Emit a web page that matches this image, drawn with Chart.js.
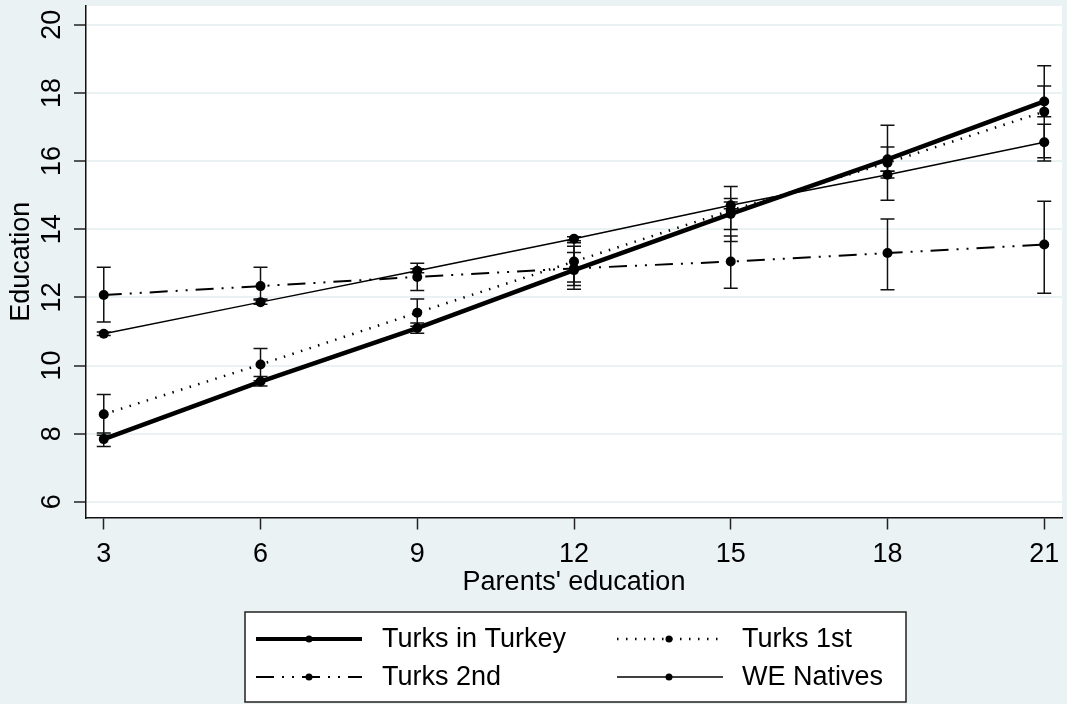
<!DOCTYPE html>
<html>
<head>
<meta charset="utf-8">
<script src="https://cdn.jsdelivr.net/npm/chart.js@4.4.1/dist/chart.umd.min.js"></script>
<style>
html,body{margin:0;padding:0;background:#EAF2F3;overflow:hidden;}
#wrap{width:1067px;height:704px;position:relative;}
canvas{display:block;}
</style>
</head>
<body>
<div id="wrap"><canvas id="c" width="1067" height="704"></canvas></div>
<script>
// ---- data ----
const parentsEdu = [3, 6, 9, 12, 15, 18, 21];
const xTickValues = [3, 6, 9, 12, 15, 18, 21];
const yTickValues = [6, 8, 10, 12, 14, 16, 18, 20];
const seriesNames = ['Turks in Turkey', 'Turks 1st', 'Turks 2nd', 'WE Natives'];

const turksInTurkey     = [7.84, 9.53, 11.10, 12.80, 14.45, 16.05, 17.75];
const turksInTurkeyLow  = [7.62, 9.40, 10.95, 12.35, 13.99, 15.70, 17.30];
const turksInTurkeyHigh = [8.02, 9.68, 11.25, 13.32, 14.90, 16.41, 18.20];

const turks1st     = [8.57, 10.03, 11.55, 13.05, 14.55, 15.95, 17.45];
const turks1stLow  = [7.95, 9.55, 11.15, 12.45, 13.64, 14.85, 16.10];
const turks1stHigh = [9.15, 10.50, 11.95, 13.60, 15.25, 17.05, 18.80];

const turks2nd     = [12.07, 12.33, 12.60, 12.85, 13.05, 13.30, 13.55];
const turks2ndLow  = [11.28, 11.95, 12.20, 12.24, 12.27, 12.22, 12.12];
const turks2ndHigh = [12.88, 12.88, 13.00, 13.50, 13.80, 14.30, 14.82];

const weNatives     = [10.93, 11.86, 12.78, 13.72, 14.70, 15.60, 16.55];
const weNativesLow  = [10.88, 11.80, 12.72, 13.66, 14.60, 15.50, 16.00];
const weNativesHigh = [10.98, 11.92, 12.84, 13.78, 14.80, 15.70, 17.08];

const xTitle = "Parents' education";
const yTitle = 'Education';

// ---- build ----
const pts = arr => arr.map((v, i) => ({x: parentsEdu[i], y: v}));
const FONT = "'Liberation Sans', Arial, sans-serif";
const BG = '#EAF2F3';

const datasets = [
  {label: seriesNames[0], data: pts(turksInTurkey), low: turksInTurkeyLow, high: turksInTurkeyHigh,
   borderWidth: 4.5, borderDash: [], legendWidth: 4},
  {label: seriesNames[1], data: pts(turks1st), low: turks1stLow, high: turks1stHigh,
   borderWidth: 2.5, borderDash: [1.5, 7.5], legendWidth: 2.5},
  {label: seriesNames[2], data: pts(turks2nd), low: turks2ndLow, high: turks2ndHigh,
   borderWidth: 2, borderDash: [18, 8, 2, 8, 2, 8], legendWidth: 2},
  {label: seriesNames[3], data: pts(weNatives), low: weNativesLow, high: weNativesHigh,
   borderWidth: 1.5, borderDash: [], legendWidth: 1.5}
].map(d => Object.assign({
  borderColor: '#000', backgroundColor: '#000', pointBackgroundColor: '#000',
  pointBorderWidth: 0, pointRadius: 5, pointHoverRadius: 5, tension: 0, fill: false,
  borderCapStyle: 'butt'
}, d));

const bgPlugin = {
  id: 'bgPlugin',
  beforeDraw(chart) {
    const {ctx, chartArea: a, width, height} = chart;
    ctx.save();
    ctx.fillStyle = BG;
    ctx.fillRect(0, 0, width, height);
    ctx.fillStyle = '#fff';
    ctx.fillRect(a.left, a.top, a.right - a.left, a.bottom - a.top);
    ctx.restore();
  }
};

const errorBarPlugin = {
  id: 'errorBars',
  beforeDatasetsDraw(chart) {
    const {ctx, scales: {x, y}, chartArea: a} = chart;
    ctx.save();
    ctx.beginPath();
    ctx.rect(a.left, a.top, a.right - a.left, a.bottom - a.top);
    ctx.clip();
    ctx.strokeStyle = '#111';
    ctx.lineWidth = 1.5;
    chart.data.datasets.forEach(ds => {
      ds.low.forEach((lo, i) => {
        const px = x.getPixelForValue(parentsEdu[i]);
        const p1 = y.getPixelForValue(lo);
        const p2 = y.getPixelForValue(ds.high[i]);
        ctx.beginPath();
        ctx.moveTo(px, p1); ctx.lineTo(px, p2);
        ctx.moveTo(px - 7, p1); ctx.lineTo(px + 7, p1);
        ctx.moveTo(px - 7, p2); ctx.lineTo(px + 7, p2);
        ctx.stroke();
      });
    });
    ctx.restore();
  }
};

const legendPlugin = {
  id: 'stataLegend',
  afterDraw(chart) {
    const {ctx} = chart;
    const box = {l: 245, t: 612, r: 906, b: 702};
    const slots = [
      {x1: 256, x2: 362, mx: 309, tx: 382, y: 639},
      {x1: 617, x2: 723, mx: 669, tx: 742, y: 639},
      {x1: 256, x2: 362, mx: 309, tx: 382, y: 677},
      {x1: 617, x2: 723, mx: 669, tx: 742, y: 677}
    ];
    ctx.save();
    ctx.fillStyle = '#fff';
    ctx.fillRect(box.l, box.t, box.r - box.l, box.b - box.t);
    ctx.strokeStyle = '#222';
    ctx.lineWidth = 1.5;
    ctx.strokeRect(box.l, box.t, box.r - box.l, box.b - box.t);
    chart.data.datasets.forEach((ds, i) => {
      const s = slots[i];
      ctx.strokeStyle = '#000';
      ctx.lineWidth = ds.legendWidth;
      ctx.setLineDash(ds.borderDash);
      ctx.beginPath();
      ctx.moveTo(s.x1, s.y); ctx.lineTo(s.x2, s.y);
      ctx.stroke();
      ctx.setLineDash([]);
      ctx.fillStyle = '#000';
      ctx.beginPath();
      ctx.arc(s.mx, s.y, 3.5, 0, Math.PI * 2);
      ctx.fill();
      ctx.font = '27px ' + FONT;
      ctx.textBaseline = 'middle';
      ctx.textAlign = 'left';
      ctx.fillText(ds.label, s.tx, s.y + 1);
    });
    ctx.restore();
  }
};

new Chart(document.getElementById('c'), {
  type: 'line',
  data: {datasets},
  plugins: [bgPlugin, errorBarPlugin, legendPlugin],
  options: {
    responsive: false,
    animation: false,
    events: [],
    layout: {padding: {top: 6, right: 5, bottom: 108, left: 0}},
    plugins: {legend: {display: false}, tooltip: {enabled: false}, title: {display: false}},
    scales: {
      x: {
        type: 'linear', min: 2.66, max: 21.34,
        afterBuildTicks: s => { s.ticks = xTickValues.map(v => ({value: v})); },
        afterFit: s => { s.paddingLeft = 0; s.paddingRight = 0; },
        ticks: {color: '#000', font: {family: FONT, size: 27, lineHeight: 1}, padding: 11.5, autoSkip: false, maxRotation: 0},
        grid: {drawOnChartArea: false, drawTicks: true, tickLength: 12, tickColor: '#222', tickWidth: 1.5},
        border: {display: true, color: '#111', width: 1.5},
        title: {display: true, text: xTitle, color: '#000', font: {family: FONT, size: 27, lineHeight: 1}, padding: {top: -10.5, bottom: 0}}
      },
      y: {
        type: 'linear', min: 5.54, max: 20.55,
        afterBuildTicks: s => { s.ticks = yTickValues.map(v => ({value: v})); },
        afterFit: s => { s.paddingTop = 0; s.paddingBottom = 0; },
        ticks: {color: '#000', font: {family: FONT, size: 27, lineHeight: 1}, padding: 6, minRotation: 90, maxRotation: 90, crossAlign: 'center', autoSkip: false},
        grid: {color: BG, lineWidth: 2, drawTicks: true, tickLength: 12, tickColor: '#222', tickWidth: 1.5},
        border: {display: true, color: '#111', width: 1.5},
        title: {display: true, text: yTitle, color: '#000', font: {family: FONT, size: 27, lineHeight: 1}, padding: {top: 8, bottom: 0}}
      }
    }
  }
});
</script>
</body>
</html>
